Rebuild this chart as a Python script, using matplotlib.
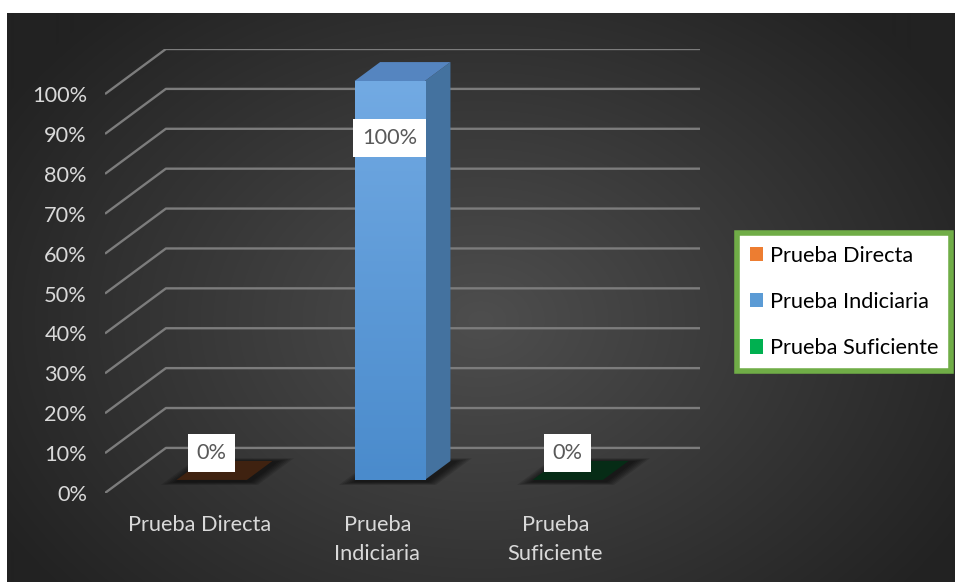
import matplotlib.pyplot as plt
import numpy as np
from matplotlib.patches import Polygon, Patch

plt.rcParams['font.family'] = ['Lato', 'DejaVu Sans']

# chart data
categories = ['Prueba Directa', 'Prueba\nIndiciaria', 'Prueba\nSuficiente']
series = ['Prueba Directa', 'Prueba Indiciaria', 'Prueba Suficiente']
values = [0.0, 1.0, 0.0]
tick_values = [0.0, 0.1, 0.2, 0.3, 0.4, 0.5, 0.6, 0.7, 0.8, 0.9, 1.0]
tick_labels = ['0%', '10%', '20%', '30%', '40%', '50%', '60%', '70%', '80%', '90%', '100%']

legend_colors = ['#ed7d31', '#5b9bd5', '#00b050']
front_top = ['#8a4a1c', '#72aae3', '#0a7a3a']
front_bottom = ['#6a3814', '#4a8bcc', '#08602e']
top_colors = ['#3f2210', '#5585c0', '#062c16']
side_colors = ['#4a2812', '#44729f', '#06401f']

FS = 15.7

# oblique "3D" look: depth shifts points right and up
DX, DY = 0.342, 0.113
D0, D1 = 0.29, 0.71      # bar depth range (fraction of full depth)
BAR_W = 0.395

W, H = 955, 582
fig = plt.figure(figsize=(W / 100, H / 100), dpi=100)

# background with a soft radial gradient
bg = fig.add_axes([0, 0, 1, 1], zorder=-10)
yy, xx = np.mgrid[0:H, 0:W]
r = np.sqrt(((xx - 480) / 560.0) ** 2 + ((yy - 320) / 420.0) ** 2)
shade = np.clip(78 - 44 * r, 34, 80) / 255.0
img = np.dstack([shade, shade, shade])
img[:13, :, :] = 1.0
img[:, :7, :] = 1.0
bg.imshow(img, extent=[0, W, H, 0], aspect='auto', interpolation='bilinear')
bg.set_xlim(0, W)
bg.set_ylim(H, 0)
bg.axis('off')

left, right, bottom, top = 105, 700, 493, 49
ax = fig.add_axes([left / W, (H - bottom) / H, (right - left) / W, (bottom - top) / H])
ax.set_xlim(0, 3 + DX)
ax.set_ylim(0, 1 + DY)
ax.patch.set_alpha(0)
for s in ax.spines.values():
    s.set_visible(False)

# gridlines: left wall diagonal then along the back wall
for v in tick_values:
    ax.plot([0, DX, 3 + DX], [v, v + DY, v + DY], color='#7c7c7c', lw=1.7,
            solid_capstyle='butt', zorder=1)

ax.set_yticks(tick_values)
ax.set_yticklabels(tick_labels)
ax.set_xticks([i + 0.53 for i in range(len(categories))])
ax.set_xticklabels(categories, linespacing=1.55)
ax.tick_params(axis='y', length=0, pad=13, labelsize=FS, labelcolor='#d9d9d9')
ax.tick_params(axis='x', length=0, pad=16, labelsize=FS, labelcolor='#d9d9d9')


def pt(x, v, d):
    return (x + d * DX, v + d * DY)


for i, val in enumerate(values):
    x0 = i + 0.5 - BAR_W / 2
    x1 = x0 + BAR_W
    # soft shadow on the floor
    for k in range(6):
        g = 0.012 * k
        foot = [pt(x0 - g + 0.01, 0, D0 - 0.05 - g), pt(x1 + g + 0.04, 0, D0 - 0.05 - g),
                pt(x1 + g + 0.04, 0, D1 + g), pt(x0 - g + 0.01, 0, D1 + g)]
        ax.add_patch(Polygon(foot, closed=True, fc='black', ec='none', alpha=0.12, zorder=2))

    # front face with vertical gradient
    fx0, fy0 = pt(x0, 0, D0)
    if val > 0:
        rect = ax.bar(fx0 + BAR_W / 2, val, width=BAR_W, bottom=fy0, color=front_bottom[i],
                      zorder=3)[0]
        c0 = np.array(plt.matplotlib.colors.to_rgb(front_top[i]))
        c1 = np.array(plt.matplotlib.colors.to_rgb(front_bottom[i]))
        t = np.linspace(0, 1, 200)[:, None]
        grad = (c0 * (1 - t) + c1 * t)[:, None, :]
        im = ax.imshow(grad, extent=[fx0, fx0 + BAR_W, fy0, fy0 + val], aspect='auto',
                       origin='upper', zorder=3.1)
        im.set_clip_path(rect)
        side = [pt(x1, 0, D0), pt(x1, 0, D1), pt(x1, val, D1), pt(x1, val, D0)]
        ax.add_patch(Polygon(side, closed=True, fc=side_colors[i], ec='none', zorder=3))
    topf = [pt(x0, val, D0), pt(x1, val, D0), pt(x1, val, D1), pt(x0, val, D1)]
    ax.add_patch(Polygon(topf, closed=True, fc=top_colors[i], ec='none', zorder=3.2))

    # data label
    lx = fx0 + BAR_W / 2
    ly = fy0 + val - 0.143 if val > 0.5 else fy0 + val + 0.067
    ax.text(lx, ly, '%d%%' % round(val * 100), ha='center', va='center', fontsize=FS,
            color='#595959', zorder=5,
            bbox=dict(boxstyle='square,pad=0.4', fc='white', ec='none'))

handles = [Patch(facecolor=c, edgecolor='none') for c in legend_colors]
leg = fig.legend(handles, series, loc='center', bbox_to_anchor=(844 / W, 1 - 302 / H),
                 fontsize=FS, frameon=True, fancybox=False, framealpha=1,
                 handlelength=0.62, handleheight=0.62, handletextpad=0.3,
                 labelspacing=1.2, borderpad=0.6, borderaxespad=0)
leg.get_frame().set_edgecolor('#70ad47')
leg.get_frame().set_linewidth(4)
for txt in leg.get_texts():
    txt.set_color('black')

fig.savefig('out.png', dpi=100)
